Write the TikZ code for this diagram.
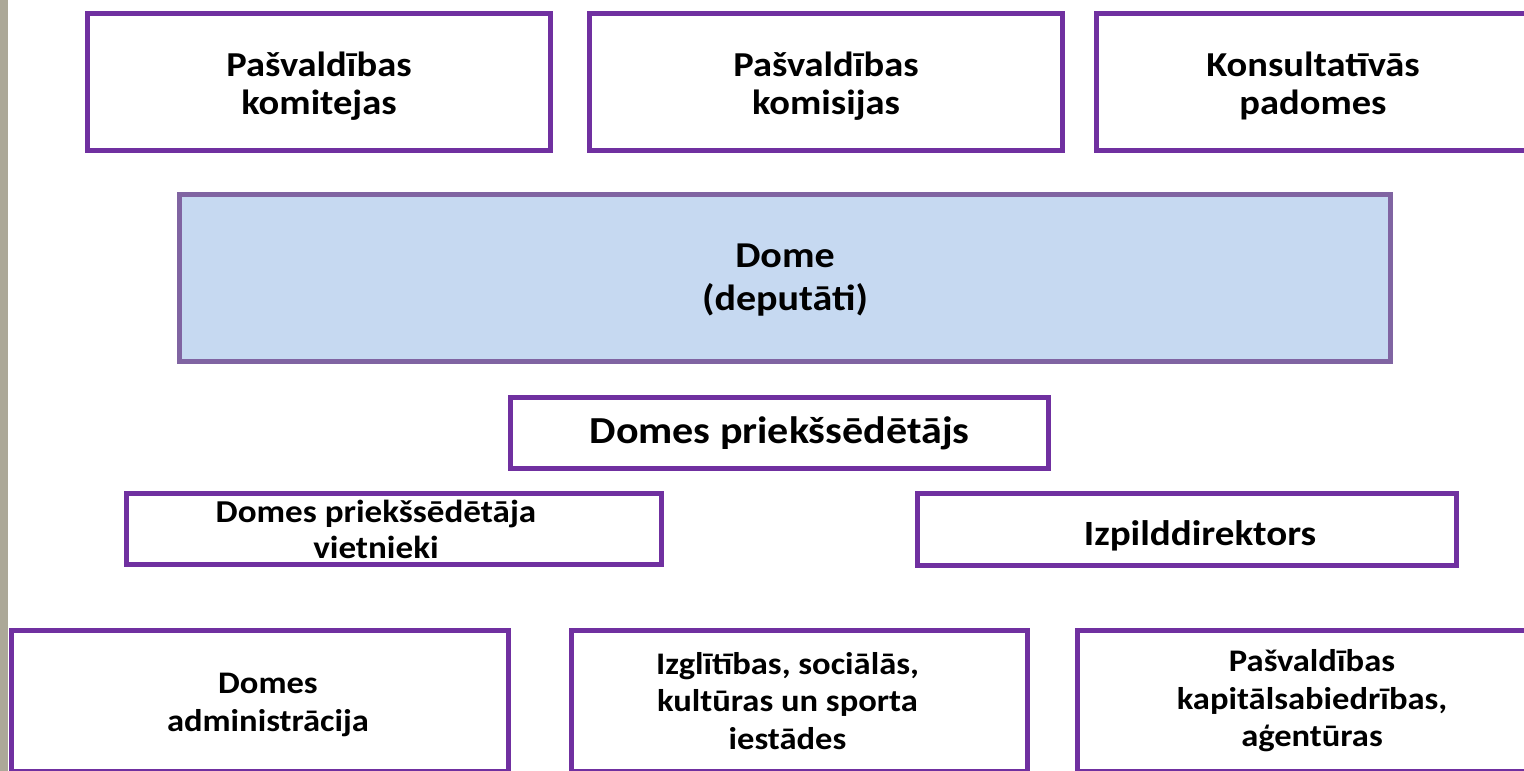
\documentclass[tikz,border=0pt]{standalone}
\usepackage{fontspec}
\newfontfamily\orgfont{Carlito}[FakeStretch=1.1]
\definecolor{orgpurple}{RGB}{112,48,160}
\definecolor{domefill}{RGB}{198,217,241}
\definecolor{domeline}{RGB}{128,100,162}
\definecolor{sidebar}{RGB}{172,168,152}

\begin{document}
\begin{tikzpicture}[x=1pt,y=-1pt,
	orgbox/.style={draw=orgpurple,line width=5pt,fill=white,inner sep=0pt},
	domebox/.style={orgbox,draw=domeline,fill=domefill},
	toptext/.style={align=center,inner sep=0pt,font=\orgfont\bfseries\fontsize{35}{38}\selectfont},
	bigtext/.style={toptext,font=\orgfont\bfseries\fontsize{36.4}{43}\selectfont},
	smalltext/.style={toptext,font=\orgfont\bfseries\fontsize{31.9}{36}\selectfont},
	lowtext/.style={toptext,font=\orgfont\bfseries\fontsize{31.4}{37.5}\selectfont}
	]
	\useasboundingbox (0,0) rectangle (1524,771);
	\clip (0,0) rectangle (1524,771);
	\fill[white] (0,0) rectangle (1524,771);
	\fill[sidebar] (0,0) rectangle (8,771);
	% top row
	\node[orgbox,minimum width=463pt,minimum height=137pt,
		label={[toptext,yshift=-4pt]center:Pašvaldības\\komitejas}] (komitejas) at (319,82) {};
	\node[orgbox,minimum width=473pt,minimum height=137pt,
		label={[toptext,yshift=-4pt]center:Pašvaldības\\komisijas}] (komisijas) at (826,82) {};
	\node[orgbox,minimum width=433pt,minimum height=137pt,
		label={[toptext,yshift=-4pt]center:Konsultatīvās\\padomes}] (padomes) at (1313,82) {};
	% dome
	\node[domebox,minimum width=1211pt,minimum height=167pt,
		label={[bigtext,yshift=-2pt]center:Dome\\(deputāti)}] (dome) at (785,278) {};
	\node[orgbox,minimum width=538pt,minimum height=71pt,
		label={[toptext,font=\orgfont\bfseries\fontsize{38.2}{42}\selectfont]center:Domes priekšsēdētājs}] (priekssedetajs) at (779.5,433) {};
	\node[orgbox,minimum width=535pt,minimum height=71pt,
		label={[smalltext,xshift=-18pt]center:Domes priekšsēdētāja\\vietnieki}] (vietnieki) at (394,529) {};
	\node[orgbox,minimum width=539pt,minimum height=72pt,
		label={[toptext,font=\orgfont\bfseries\fontsize{35.5}{40}\selectfont,xshift=13pt,yshift=-6pt]center:Izpilddirektors}] (izpilddirektors) at (1187,529.5) {};
	% bottom row
	\node[orgbox,minimum width=497pt,minimum height=141pt,
		label={[lowtext,xshift=8pt,yshift=-4pt]center:Domes\\administrācija}] (administracija) at (260,701) {};
	\node[orgbox,minimum width=456pt,minimum height=141pt,
		label={[lowtext,xshift=-12pt]center:Izglītības, sociālās,\\kultūras un sporta\\iestādes}] (iestades) at (799.5,701) {};
	\node[orgbox,minimum width=470pt,minimum height=141pt,
		label={[lowtext]center:Pašvaldības\\kapitālsabiedrības,\\aģentūras}] (agenturas) at (1312,701) {};
\end{tikzpicture}
\end{document}
